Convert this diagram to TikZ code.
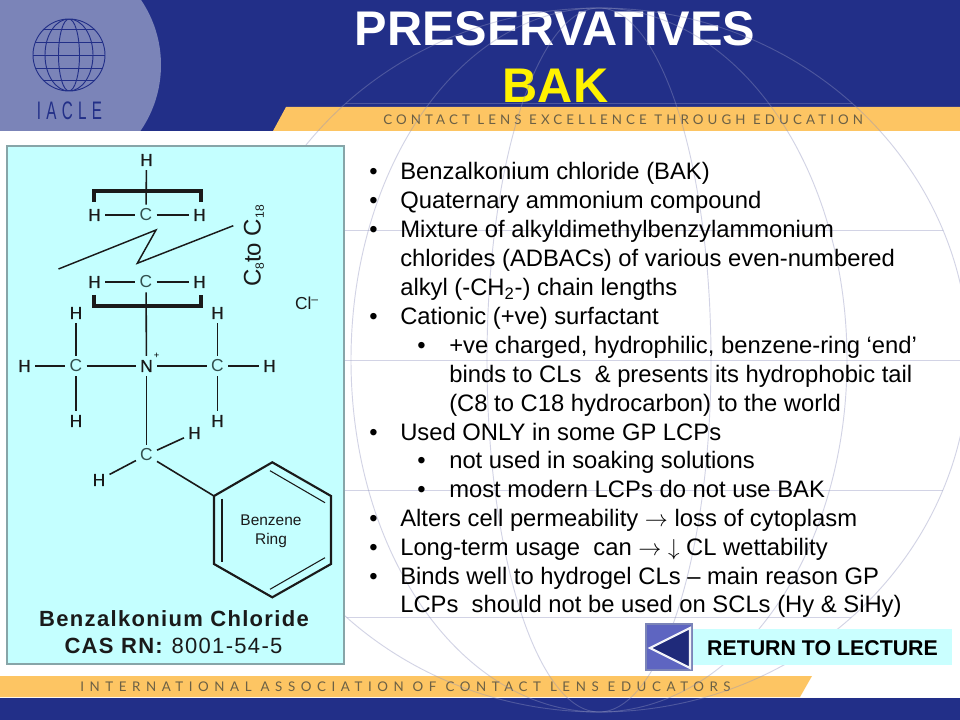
\documentclass[tikz,border=0pt]{standalone}
\usepackage{amsmath}
\usepackage{amssymb}
\usepackage{fontspec}
\setmainfont{Liberation Sans}
\newfontfamily\bandfont[LetterSpace=30.7]{Lato}
\newfontfamily\footfont[LetterSpace=41.8]{Lato}
\newfontfamily\logofont[LetterSpace=35]{Liberation Sans}
\newfontfamily\wideboldfont[LetterSpace=6]{Liberation Sans}
\newfontfamily\atomfont[FakeBold=0.5]{Liberation Sans}
\usetikzlibrary{positioning}
\definecolor{navyband}{HTML}{222F88}
\definecolor{orangeband}{HTML}{FDC563}
\definecolor{logoblue}{HTML}{7B84B8}
\definecolor{panelcyan}{HTML}{C4FFFF}
\definecolor{paneledge}{HTML}{87A5A8}
\definecolor{globeline}{HTML}{8F93BF}
\definecolor{inkdark}{HTML}{1A1A1A}
\definecolor{carbongrey}{HTML}{33504F}
\definecolor{bandtext}{HTML}{6B6045}
\newcommand{\smallsub}[1]{\raisebox{-2.5pt}{\fontsize{9}{9}\selectfont #1}}
\tikzset{
    bodyline/.style = {anchor = base west , inner sep = 0pt , font = \fontsize{17.85}{18}\selectfont},
    atom/.style = {inner sep = 3pt , text = inkdark , font = \atomfont\fontsize{13}{13}\selectfont},
    carbon/.style = {atom , text = carbongrey , font = \fontsize{13}{13}\selectfont},
    bond/.style = {draw = inkdark , line width = 1.2pt},
    bracketline/.style = {draw = inkdark , line width = 3pt},
    ringline/.style = {draw = inkdark , line width = 1.6pt},
    ringinner/.style = {draw = inkdark , line width = 0.8pt},
    logoline/.style = {draw = navyband , line width = 0.7pt}
}
\begin{document}
\begin{tikzpicture}[x = 0.75pt , y = -0.75pt]
    \useasboundingbox (0,0) rectangle (960,720);
    % bands
    \fill[white] (0,0) rectangle (960,720);
    \fill[navyband] (0,0) rectangle (960,131);
    \fill[navyband] (0,698) rectangle (960,720);
    \begin{scope}
        \clip (0,0) rectangle (960,131);
        \fill[logoblue] (45,65) circle (116);
    \end{scope}
    \fill[orangeband] (286,107) -- (960,107) -- (960,131) -- (273,131) -- cycle;
    \fill[orangeband] (0,676) -- (812,676) -- (800,697) -- (0,697) -- cycle;
    % logo globe
    \begin{scope}
        \clip (69,55) circle (36);
        \draw[logoline] (69,55) ellipse (24 and 36);
        \draw[logoline] (69,55) ellipse (10.5 and 36);
        \draw[logoline] (33,29) -- (105,29);
        \draw[logoline] (33,42) -- (105,42);
        \draw[logoline] (33,55) -- (105,55);
        \draw[logoline] (33,68) -- (105,68);
        \draw[logoline] (33,80) -- (105,80);
    \end{scope}
    \draw[logoline] (69,55) circle (36);
    \node[text = navyband , inner sep = 0pt , font = \logofont\fontsize{19}{19}\selectfont] (logoName) at (69.5,111) {\scalebox{0.6}[1]{IACLE}};
    % title
    \node[text = white , inner sep = 0pt , anchor = base , font = \bfseries\fontsize{36.5}{36.5}\selectfont] (titleTop) at (555,46) {PRESERVATIVES};
    \node[text = yellow , inner sep = 0pt , anchor = base , font = \bfseries\fontsize{36.5}{36.5}\selectfont] (titleBak) at (555.5,103) {BAK};
    \node[text = bandtext , inner sep = 0pt , anchor = base west , font = \bandfont\fontsize{10}{10}\selectfont] (bandTop) at (383,124.5) {CONTACT LENS EXCELLENCE THROUGH EDUCATION};
    \node[text = bandtext , inner sep = 0pt , anchor = base west , font = \footfont\fontsize{10}{10}\selectfont] (bandBottom) at (80,691) {INTERNATIONAL ASSOCIATION OF CONTACT LENS EDUCATORS};
    % big globe behind the text
    \begin{scope}[globeline , line width = 0.7pt , opacity = 0.4]
        \draw (599,360) ellipse (370 and 352);
        \draw (599,360) ellipse (248 and 352);
        \draw (599,360) ellipse (112 and 352);
        \clip (599,360) ellipse (370 and 352);
        \draw (200,103) -- (990,103);
        \draw (200,230) -- (990,230);
        \draw (200,360) -- (990,360);
        \draw (200,490) -- (990,490);
        \draw (200,617) -- (990,617);
    \end{scope}
    % panel
    \draw[paneledge , fill = panelcyan , line width = 1.6pt] (7,146) rectangle (344,664);
    % chain
    \node[atom] (hTop) at (146.5,160) {H};
    \node[carbon] (cOne) at (146,215) {C};
    \node[atom] (hOneL) at (94.5,215) {H};
    \node[atom] (hOneR) at (199.5,215) {H};
    \node[carbon] (cTwo) at (146,282) {C};
    \node[atom] (hTwoL) at (94.5,282) {H};
    \node[atom] (hTwoR) at (199.5,282) {H};
    \node[atom] (nMid) at (146.5,366) {N};
    \node[inner sep = 0pt , font = \fontsize{7}{7}\selectfont] (nPlus) at (156.5,356) {+};
    \node[carbon] (cLeft) at (76,366) {C};
    \node[atom] (hLeftT) at (76,313) {H};
    \node[atom] (hLeftB) at (76,421) {H};
    \node[atom] (hLeftL) at (24.5,366) {H};
    \node[carbon] (cRight) at (217.5,366) {C};
    \node[atom] (hRightT) at (217.5,313) {H};
    \node[atom] (hRightB) at (217.5,421) {H};
    \node[atom] (hRightR) at (269.5,366) {H};
    \node[carbon] (cBenzyl) at (146.5,455) {C};
    \node[atom] (hBenzylU) at (194.5,433) {H};
    \node[atom] (hBenzylD) at (99,480) {H};
    \draw[bond] (hTop) -- (cOne);
    \draw[bond] (hOneL) -- (cOne);
    \draw[bond] (cOne) -- (hOneR);
    \draw[bond] (hTwoL) -- (cTwo);
    \draw[bond] (cTwo) -- (hTwoR);
    \draw[bond] (cTwo) -- (nMid);
    \draw[bond] (cLeft) -- (nMid);
    \draw[bond] (nMid) -- (cRight);
    \draw[bond] (hLeftT) -- (cLeft);
    \draw[bond] (cLeft) -- (hLeftB);
    \draw[bond] (hLeftL) -- (cLeft);
    \draw[bond] (hRightT) -- (cRight);
    \draw[bond] (cRight) -- (hRightB);
    \draw[bond] (cRight) -- (hRightR);
    \draw[bond] (nMid) -- (cBenzyl);
    \draw[bond] (cBenzyl) -- (hBenzylU);
    \draw[bond] (cBenzyl) -- (hBenzylD);
    % brackets and zigzag
    \draw[bracketline] (94,202) -- (94,191) -- (201,191) -- (201,202);
    \draw[bracketline] (94,295) -- (94,306) -- (201,306) -- (201,295);
    \draw[bond , line width = 1.1pt] (58.5,269) -- (156,230) -- (137.3,263.3) -- (233.3,225.7);
    \node[rotate = 90 , inner sep = 0pt , text = inkdark , font = \fontsize{18}{18}\selectfont] (chainLabel) at (254,246) {C\smallsub{8}to C\smallsub{18}};
    \node[inner sep = 0pt , text = inkdark , font = \fontsize{13}{13}\selectfont] (chloride) at (307,303) {Cl\textsuperscript{--}};
    % ring
    \coordinate (ringA) at (272.3,462.3);
    \coordinate (ringB) at (331,496);
    \coordinate (ringC) at (331,564);
    \coordinate (ringD) at (272.3,597.3);
    \coordinate (ringE) at (214,564);
    \coordinate (ringF) at (214,496);
    \draw[ringline] (ringA) -- (ringB) -- (ringC) -- (ringD) -- (ringE) -- (ringF) -- cycle;
    \draw[bond] (cBenzyl) -- (ringF);
    \draw[ringline] (222,498.7) -- (222,561.7);
    \draw[ringinner] (270,470.7) -- (325,502.7);
    \draw[ringinner] (270,589.3) -- (325,557.7);
    \node[align = center , inner sep = 0pt , text = inkdark , font = \fontsize{11.6}{14.6}\selectfont] (ringLabel) at (271,531.5) {Benzene\\Ring};
    % name
    \node[inner sep = 0pt , text = inkdark , font = \wideboldfont\bfseries\fontsize{16.5}{16.5}\selectfont] (nameOne) at (174,619) {Benzalkonium Chloride};
    \node[inner sep = 0pt , text = inkdark , font = \wideboldfont\fontsize{16.5}{16.5}\selectfont] (nameTwo) at (173.5,646) {\textbf{CAS RN:} 8001-54-5};
    % text
    \node[bodyline] (bulA) at (369,180) {•};
    \node[bodyline] (lineA) at (400,180) {Benzalkonium chloride (BAK)};
    \node[bodyline] (bulB) at (369,209) {•};
    \node[bodyline] (lineB) at (400,209) {Quaternary ammonium compound};
    \node[bodyline] (bulC) at (369,238) {•};
    \node[bodyline] (lineC) at (400,238) {Mixture of alkyldimethylbenzylammonium};
    \node[bodyline] (lineD) at (400,267) {chlorides (ADBACs) of various even-numbered};
    \node[bodyline] (lineE) at (400,296) {alkyl (-CH\textsubscript{2}-) chain lengths};
    \node[bodyline] (bulF) at (369,324.5) {•};
    \node[bodyline] (lineF) at (400,324.5) {Cationic (+ve) surfactant};
    \node[bodyline] (bulG) at (417,353.5) {•};
    \node[bodyline] (lineG) at (449,353.5) {+ve charged, hydrophilic, benzene-ring ‘end’};
    \node[bodyline] (lineH) at (449,382.5) {binds to CLs\ \ \& presents its hydrophobic tail};
    \node[bodyline] (lineI) at (449,411.5) {(C8 to C18 hydrocarbon) to the world};
    \node[bodyline] (bulJ) at (369,440) {•};
    \node[bodyline] (lineJ) at (400,440) {Used ONLY in some GP LCPs};
    \node[bodyline] (bulK) at (417,468.5) {•};
    \node[bodyline] (lineK) at (449,468.5) {not used in soaking solutions};
    \node[bodyline] (bulL) at (417,497) {•};
    \node[bodyline] (lineL) at (449,497) {most modern LCPs do not use BAK};
    \node[bodyline] (bulM) at (369,526) {•};
    \node[bodyline] (lineM) at (400,526) {Alters cell permeability $\rightarrow$ loss of cytoplasm};
    \node[bodyline] (bulN) at (369,555) {•};
    \node[bodyline] (lineN) at (400,555) {Long-term usage\ \ can $\rightarrow$ $\downarrow$ CL wettability};
    \node[bodyline] (bulO) at (369,584) {•};
    \node[bodyline] (lineO) at (400,584) {Binds well to hydrogel CLs -- main reason GP};
    \node[bodyline] (lineP) at (400,612) {LCPs\ \ should not be used on SCLs (Hy \& SiHy)};
    % return button
    \fill[panelcyan!90!white] (692,629) rectangle (952,665);
    \draw[logoblue , fill = navyband!75!blue!70!white , line width = 1pt] (646,624) rectangle (692,670);
    \draw[white!90!logoblue , fill = navyband!90!black , line width = 1.6pt] (690,628) -- (650,648) -- (690,668) -- cycle;
    \node[inner sep = 0pt , font = \bfseries\fontsize{16}{16}\selectfont] (returnText) at (822.5,648) {RETURN TO LECTURE};
\end{tikzpicture}
\end{document}
